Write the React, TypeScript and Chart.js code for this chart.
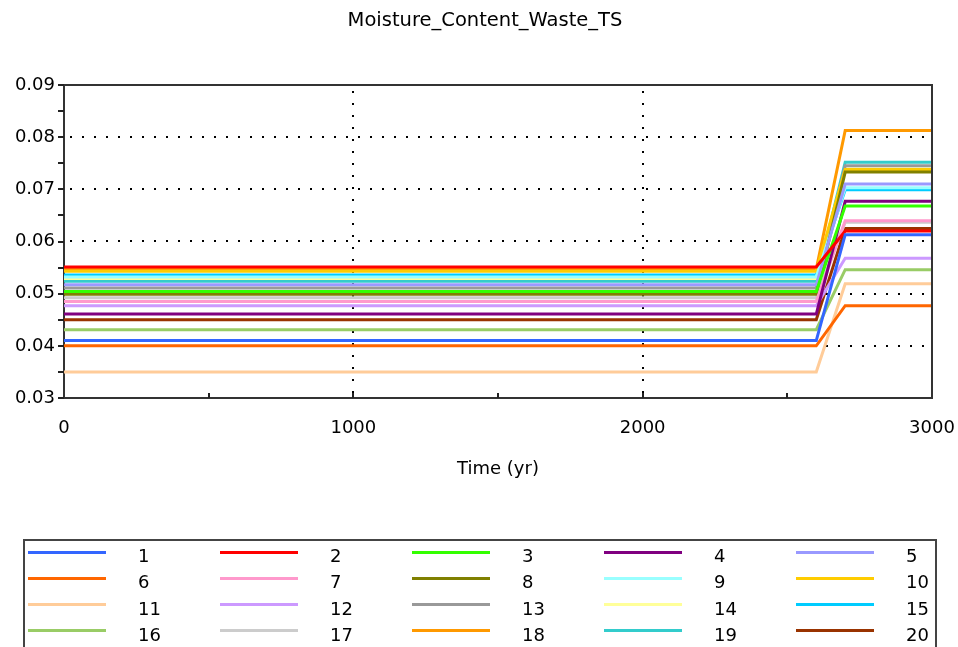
import React, { useEffect, useRef } from "react";
import { Chart, registerables } from "chart.js";

Chart.register(...registerables);

const TITLE = "Moisture_Content_Waste_TS";
const X_TITLE = "Time (yr)";
const TIMES = [0, 2600, 2700, 3000];
const SERIES_NAMES = ["1", "2", "3", "4", "5", "6", "7", "8", "9", "10", "11", "12", "13", "14", "15", "16", "17", "18", "19", "20"];
const COLORS = [
  "#3366ff", "#ff0000", "#33ff00", "#800080", "#9999ff",
  "#ff6600", "#ff99cc", "#808000", "#99ffff", "#ffcc00",
  "#ffcc99", "#cc99ff", "#999999", "#ffff99", "#00ccff",
  "#99cc66", "#cccccc", "#ff9900", "#33cccc", "#993300",
];
const INITIAL_VALUES = [
  0.0410, 0.0551, 0.0504, 0.0461, 0.0517,
  0.0400, 0.0485, 0.0499, 0.0532, 0.0543,
  0.0350, 0.0477, 0.0511, 0.0529, 0.0536,
  0.0431, 0.0492, 0.0547, 0.0524, 0.0450,
];
const FINAL_VALUES = [
  0.0613, 0.0620, 0.0668, 0.0677, 0.0710,
  0.0477, 0.0640, 0.0733, 0.0703, 0.0738,
  0.0519, 0.0568, 0.0745, 0.0739, 0.0699,
  0.0546, 0.0637, 0.0813, 0.0752, 0.0625,
];
const X_MIN = 0, X_MAX = 3000, X_STEP = 1000, X_MINOR = 500;
const Y_MIN = 0.03, Y_MAX = 0.09, Y_STEP = 0.01, Y_MINOR = 0.005;

const FONT = "'DejaVu Sans', sans-serif";

const gridPlugin = {
  id: "dottedGrid",
  beforeDatasetsDraw(chart: any) {
    const { ctx, chartArea: a, scales } = chart;
    ctx.save();
    ctx.fillStyle = "#000";
    const ys = scales.y;
    for (let v = Y_MIN + Y_STEP; v < Y_MAX - 1e-9; v += Y_STEP) {
      const py = Math.round(ys.getPixelForValue(v));
      for (let px = a.left + 6; px < a.right - 2; px += 12) ctx.fillRect(px, py - 1, 2, 2);
    }
    const xs = scales.x;
    for (let v = X_MIN + X_STEP; v < X_MAX; v += X_STEP) {
      const px = Math.round(xs.getPixelForValue(v));
      for (let py = a.top + 6; py < a.bottom - 2; py += 12) ctx.fillRect(px - 1, py, 2, 2);
    }
    ctx.restore();
  },
  afterDraw(chart: any) {
    const { ctx, chartArea: a, scales } = chart;
    ctx.save();
    ctx.strokeStyle = "#333";
    ctx.lineWidth = 2;
    ctx.beginPath();
    ctx.moveTo(a.left, a.top);
    ctx.lineTo(a.right, a.top);
    ctx.lineTo(a.right, a.bottom);
    ctx.stroke();
    ctx.strokeStyle = "#222";
    const ys = scales.y;
    for (let v = Y_MIN; v <= Y_MAX + 1e-9; v += Y_MINOR) {
      const py = Math.round(ys.getPixelForValue(v));
      ctx.beginPath();
      ctx.moveTo(a.left - 6, py);
      ctx.lineTo(a.left, py);
      ctx.stroke();
    }
    const xs = scales.x;
    for (let v = X_MIN + X_MINOR; v < X_MAX; v += X_MINOR) {
      const px = Math.round(xs.getPixelForValue(v));
      ctx.beginPath();
      ctx.moveTo(px, a.bottom);
      ctx.lineTo(px, a.bottom - 5);
      ctx.stroke();
    }
    ctx.restore();
  },
};

export default function App() {
  const ref = useRef<HTMLCanvasElement>(null);
  useEffect(() => {
    const canvas = ref.current;
    if (!canvas) return;
    const datasets = SERIES_NAMES.map((name, i) => ({
      label: name,
      data: TIMES.map((t, k) => ({ x: t, y: k < 2 ? INITIAL_VALUES[i] : FINAL_VALUES[i] })),
      borderColor: COLORS[i],
      backgroundColor: COLORS[i],
      borderWidth: 3,
      pointRadius: 0,
      tension: 0,
      fill: false,
    }));
    const chart = new Chart(canvas, {
      type: "line",
      data: { datasets },
      plugins: [gridPlugin],
      options: {
        animation: false,
        responsive: false,
        layout: { padding: { left: 0, right: 26, top: 85, bottom: 0 } },
        plugins: { legend: { display: false }, title: { display: false }, tooltip: { enabled: false } },
        scales: {
          x: {
            type: "linear",
            min: X_MIN,
            max: X_MAX,
            afterFit: (s: any) => { s.height = 249; s.paddingLeft = 0; s.paddingRight = 0; },
            ticks: { stepSize: X_STEP, color: "#000", font: { family: FONT, size: 18 }, padding: 20, maxRotation: 0, callback: (v: any) => String(v) },
            grid: { display: false, drawTicks: false },
            border: { display: true, color: "#333", width: 2 },
            title: { display: true, text: X_TITLE, color: "#000", font: { family: FONT, size: 18 }, padding: { top: 0, bottom: 167 } },
          },
          y: {
            type: "linear",
            min: Y_MIN,
            max: Y_MAX,
            afterFit: (s: any) => { s.width = 64; s.paddingTop = 0; s.paddingBottom = 0; },
            ticks: { stepSize: Y_STEP, color: "#000", font: { family: FONT, size: 18 }, padding: 9, callback: (v: any) => Number(v).toFixed(2) },
            grid: { display: false, drawTicks: false },
            border: { display: true, color: "#333", width: 2 },
          },
        },
      },
    });
    return () => chart.destroy();
  }, []);

  return (
    <div style={{ position: "fixed", left: 0, top: 0, width: 958, height: 647, overflow: "hidden", background: "#fff", fontFamily: FONT }}>
      <canvas ref={ref} width={958} height={647} style={{ position: "absolute", left: 0, top: 0, width: 958, height: 647 }} />
      <div style={{ position: "absolute", left: 0, width: 970, top: 8, textAlign: "center", fontSize: 19.5, color: "#000", lineHeight: "24px" }}>{TITLE}</div>
      <div style={{ position: "absolute", left: 23, top: 539, width: 914, height: 130, border: "2px solid #444", boxSizing: "border-box" }} />
      {SERIES_NAMES.map((name, i) => {
        const row = Math.floor(i / 5);
        const col = i % 5;
        const ly = 552 + 26.3 * row;
        return (
          <React.Fragment key={name}>
            <div style={{ position: "absolute", left: 28 + 192 * col, top: ly - 1.5, width: 78, height: 3, background: COLORS[i] }} />
            <div style={{ position: "absolute", left: 138 + 192 * col, top: ly - 7, fontSize: 18, lineHeight: "22px", color: "#000" }}>{name}</div>
          </React.Fragment>
        );
      })}
    </div>
  );
}
